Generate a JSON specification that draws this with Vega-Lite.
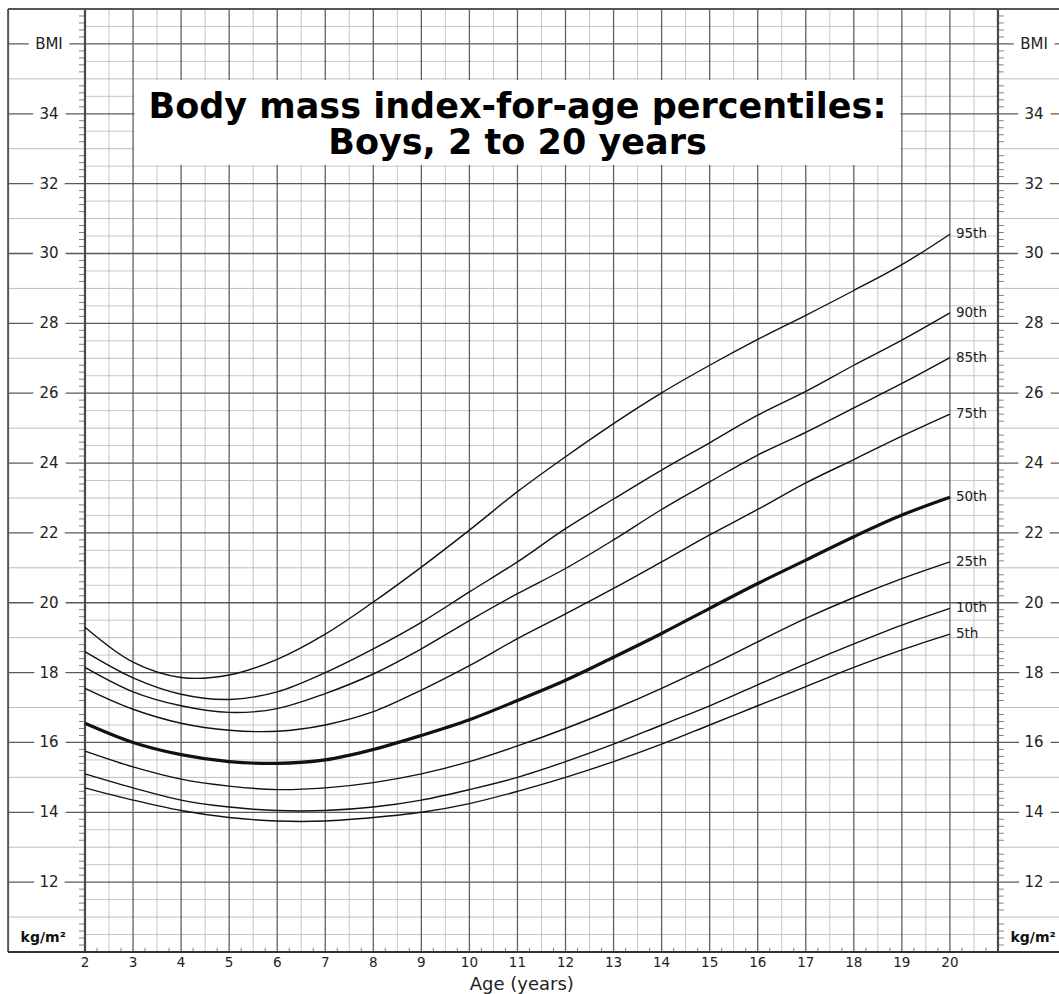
{
  "$schema": "https://vega.github.io/schema/vega-lite/v6.json",
  "width": 1051,
  "height": 943,
  "autosize": {"type": "none"},
  "padding": {"left": 8, "top": 9, "right": 0, "bottom": 42},
  "background": "white",
  "config": {"view": {"stroke": null}, "text": {"font": "DejaVu Sans"}},
  "datasets": {
    "curves": [
      {"age": 2, "5th": 14.7, "10th": 15.1, "25th": 15.75, "50th": 16.55, "75th": 17.55, "85th": 18.15, "90th": 18.6, "95th": 19.3},
      {"age": 3, "5th": 14.35, "10th": 14.7, "25th": 15.3, "50th": 16.0, "75th": 16.95, "85th": 17.45, "90th": 17.85, "95th": 18.3},
      {"age": 4, "5th": 14.05, "10th": 14.35, "25th": 14.95, "50th": 15.65, "75th": 16.55, "85th": 17.05, "90th": 17.38, "95th": 17.86},
      {"age": 5, "5th": 13.85, "10th": 14.15, "25th": 14.75, "50th": 15.45, "75th": 16.35, "85th": 16.86, "90th": 17.23, "95th": 17.93},
      {"age": 6, "5th": 13.75, "10th": 14.05, "25th": 14.65, "50th": 15.4, "75th": 16.32, "85th": 16.97, "90th": 17.45, "95th": 18.38},
      {"age": 7, "5th": 13.75, "10th": 14.05, "25th": 14.7, "50th": 15.5, "75th": 16.5, "85th": 17.4, "90th": 18.0, "95th": 19.1},
      {"age": 8, "5th": 13.85, "10th": 14.15, "25th": 14.85, "50th": 15.8, "75th": 16.88, "85th": 17.96, "90th": 18.68, "95th": 20.02},
      {"age": 9, "5th": 14.0, "10th": 14.35, "25th": 15.1, "50th": 16.2, "75th": 17.5, "85th": 18.68, "90th": 19.44, "95th": 21.02},
      {"age": 10, "5th": 14.25, "10th": 14.65, "25th": 15.45, "50th": 16.65, "75th": 18.2, "85th": 19.49, "90th": 20.31, "95th": 22.08},
      {"age": 11, "5th": 14.6, "10th": 15.0, "25th": 15.9, "50th": 17.2, "75th": 18.97, "85th": 20.26, "90th": 21.17, "95th": 23.18},
      {"age": 12, "5th": 15.0, "10th": 15.45, "25th": 16.4, "50th": 17.78, "75th": 19.68, "85th": 20.98, "90th": 22.12, "95th": 24.18},
      {"age": 13, "5th": 15.45, "10th": 15.95, "25th": 16.95, "50th": 18.44, "75th": 20.41, "85th": 21.8, "90th": 22.97, "95th": 25.13},
      {"age": 14, "5th": 15.95, "10th": 16.5, "25th": 17.55, "50th": 19.12, "75th": 21.17, "85th": 22.67, "90th": 23.8, "95th": 26.01},
      {"age": 15, "5th": 16.5, "10th": 17.05, "25th": 18.2, "50th": 19.84, "75th": 21.94, "85th": 23.46, "90th": 24.58, "95th": 26.8},
      {"age": 16, "5th": 17.05, "10th": 17.65, "25th": 18.88, "50th": 20.55, "75th": 22.67, "85th": 24.23, "90th": 25.37, "95th": 27.54},
      {"age": 17, "5th": 17.6, "10th": 18.25, "25th": 19.55, "50th": 21.22, "75th": 23.43, "85th": 24.88, "90th": 26.05, "95th": 28.23},
      {"age": 18, "5th": 18.15, "10th": 18.82, "25th": 20.15, "50th": 21.89, "75th": 24.1, "85th": 25.58, "90th": 26.8, "95th": 28.94},
      {"age": 19, "5th": 18.65, "10th": 19.36, "25th": 20.69, "50th": 22.51, "75th": 24.77, "85th": 26.28, "90th": 27.52, "95th": 29.68},
      {"age": 20, "5th": 19.1, "10th": 19.84, "25th": 21.17, "50th": 23.02, "75th": 25.4, "85th": 27.02, "90th": 28.3, "95th": 30.55}
    ],
    "ticksY": [10.2,10.4,10.6,10.8,11.2,11.4,11.6,11.8,12.2,12.4,12.6,12.8,13.2,13.4,13.6,13.8,14.2,14.4,14.6,14.8,15.2,15.4,15.6,15.8,16.2,16.4,16.6,16.8,17.2,17.4,17.6,17.8,18.2,18.4,18.6,18.8,19.2,19.4,19.6,19.8,20.2,20.4,20.6,20.8,21.2,21.4,21.6,21.8,22.2,22.4,22.6,22.8,23.2,23.4,23.6,23.8,24.2,24.4,24.6,24.8,25.2,25.4,25.6,25.8,26.2,26.4,26.6,26.8,27.2,27.4,27.6,27.8,28.2,28.4,28.6,28.8,29.2,29.4,29.6,29.8,30.2,30.4,30.6,30.8,31.2,31.4,31.6,31.8,32.2,32.4,32.6,32.8,33.2,33.4,33.6,33.8,34.2,34.4,34.6,34.8,35.2,35.4,35.6,35.8,36.2,36.4,36.6,36.8],
    "marginLabels": [
      {"b": 12, "t": "12"}, {"b": 14, "t": "14"}, {"b": 16, "t": "16"}, {"b": 18, "t": "18"},
      {"b": 20, "t": "20"}, {"b": 22, "t": "22"}, {"b": 24, "t": "24"}, {"b": 26, "t": "26"},
      {"b": 28, "t": "28"}, {"b": 30, "t": "30"}, {"b": 32, "t": "32"}, {"b": 34, "t": "34"},
      {"b": 36, "t": "BMI"}
    ],
    "ages": [2,3,4,5,6,7,8,9,10,11,12,13,14,15,16,17,18,19,20],
    "one": [{}]
  },
  "layer": [
    {
      "data": {"values": [2.5,3.5,4.5,5.5,6.5,7.5,8.5,9.5,10.5,11.5,12.5,13.5,14.5,15.5,16.5,17.5,18.5,19.5,20.5]},
      "mark": {"type": "rule", "color": "#c6c6c6", "strokeWidth": 1},
      "encoding": {
        "x": {"field": "data", "type": "quantitative", "scale": {"domain": [0.3975, 22.27], "nice": false, "zero": false}, "axis": null}
      }
    },
    {
      "data": {"values": [10.5,11.5,12.5,13.5,14.5,15.5,16.5,17.5,18.5,19.5,20.5,21.5,22.5,23.5,24.5,25.5,26.5,27.5,28.5,29.5,30.5,31.5,32.5,33.5,34.5,35.5,36.5]},
      "mark": {"type": "rule", "color": "#c6c6c6", "strokeWidth": 1},
      "encoding": {
        "y": {"field": "data", "type": "quantitative", "scale": {"domain": [10, 37], "nice": false, "zero": false}, "axis": null},
        "x": {"datum": 2, "axis": null},
        "x2": {"datum": 21}
      }
    },
    {
      "data": {"values": [11,13,15,17,19,21,23,25,27,29,31,33,35]},
      "mark": {"type": "rule", "color": "#bdbdbd", "strokeWidth": 1},
      "encoding": {"y": {"field": "data", "type": "quantitative", "axis": null}}
    },
    {
      "data": {"values": [3,4,5,6,7,8,9,10,11,12,13,14,15,16,17,18,19,20]},
      "mark": {"type": "rule", "color": "#616161", "strokeWidth": 1.3},
      "encoding": {"x": {"field": "data", "type": "quantitative", "axis": null}}
    },
    {
      "data": {"values": [12,14,16,18,20,22,24,26,28,30,32,34,36]},
      "mark": {"type": "rule", "color": "#5a5a5a", "strokeWidth": 1.3},
      "encoding": {"y": {"field": "data", "type": "quantitative", "axis": null}}
    },
    {
      "data": {"name": "ticksY"},
      "mark": {"type": "rule", "color": "#808080", "strokeWidth": 1},
      "encoding": {
        "y": {"field": "data", "type": "quantitative", "axis": null},
        "x": {"datum": 1.875, "axis": null},
        "x2": {"datum": 2}
      }
    },
    {
      "data": {"name": "ticksY"},
      "mark": {"type": "rule", "color": "#808080", "strokeWidth": 1},
      "encoding": {
        "y": {"field": "data", "type": "quantitative", "axis": null},
        "x": {"datum": 21, "axis": null},
        "x2": {"datum": 21.12}
      }
    },
    {
      "data": {"values": [2.25,2.75,3.25,3.75,4.25,4.75,5.25,5.75,6.25,6.75,7.25,7.75,8.25,8.75,9.25,9.75,10.25,10.75,11.25,11.75,12.25,12.75,13.25,13.75,14.25,14.75,15.25,15.75,16.25,16.75,17.25,17.75,18.25,18.75,19.25,19.75,20.25,20.75]},
      "mark": {"type": "rule", "color": "#808080", "strokeWidth": 1},
      "encoding": {
        "x": {"field": "data", "type": "quantitative", "axis": null},
        "y": {"datum": 10, "axis": null},
        "y2": {"datum": 10.12}
      }
    },
    {
      "data": {"name": "one"},
      "mark": {"type": "rect", "color": "white", "opacity": 1},
      "encoding": {
        "x": {"datum": 3.03, "axis": null}, "x2": {"datum": 18.97},
        "y": {"datum": 32.53, "axis": null}, "y2": {"datum": 34.97}
      }
    },
    {
      "data": {"values": [2, 21]},
      "mark": {"type": "rule", "color": "#4a4a4a", "strokeWidth": 2.2},
      "encoding": {"x": {"field": "data", "type": "quantitative", "axis": null}}
    },
    {
      "data": {"name": "one"},
      "mark": {"type": "rule", "color": "#555", "strokeWidth": 2},
      "encoding": {"x": {"datum": 0.4, "axis": null}}
    },
    {
      "data": {"name": "one"},
      "mark": {"type": "rule", "color": "#555", "strokeWidth": 2},
      "encoding": {"y": {"datum": 37, "axis": null}}
    },
    {
      "data": {"name": "one"},
      "mark": {"type": "rule", "color": "#333", "strokeWidth": 1.8},
      "encoding": {"y": {"datum": 10, "axis": null}}
    },
    {
      "data": {"name": "curves"},
      "transform": [{"fold": ["5th","10th","25th","50th","75th","85th","90th","95th"], "as": ["pct", "bmi"]}],
      "mark": {"type": "line", "interpolate": "catmull-rom", "color": "#111"},
      "encoding": {
        "x": {"field": "age", "type": "quantitative", "axis": null},
        "y": {"field": "bmi", "type": "quantitative", "axis": null},
        "detail": {"field": "pct"},
        "strokeWidth": {"condition": {"test": "datum.pct === '50th'", "value": 3.2}, "value": 1.4}
      }
    },
    {
      "data": {"name": "curves"},
      "transform": [
        {"filter": "datum.age === 20"},
        {"fold": ["5th","10th","25th","50th","75th","85th","90th","95th"], "as": ["pct", "bmi"]}
      ],
      "mark": {"type": "text", "align": "left", "baseline": "middle", "dx": 6, "fontSize": 13.5, "color": "#222"},
      "encoding": {
        "x": {"field": "age", "type": "quantitative", "axis": null},
        "y": {"field": "bmi", "type": "quantitative", "axis": null},
        "text": {"field": "pct"}
      }
    },
    {
      "data": {"name": "marginLabels"},
      "mark": {"type": "text", "align": "center", "baseline": "middle", "fontSize": 15, "color": "white", "stroke": "white", "strokeWidth": 16, "strokeJoin": "round"},
      "encoding": {"x": {"datum": 1.25, "axis": null}, "y": {"field": "b", "type": "quantitative", "axis": null}, "text": {"field": "t"}}
    },
    {
      "data": {"name": "marginLabels"},
      "mark": {"type": "text", "align": "center", "baseline": "middle", "fontSize": 15, "color": "white", "stroke": "white", "strokeWidth": 16, "strokeJoin": "round"},
      "encoding": {"x": {"datum": 21.75, "axis": null}, "y": {"field": "b", "type": "quantitative", "axis": null}, "text": {"field": "t"}}
    },
    {
      "data": {"name": "marginLabels"},
      "mark": {"type": "text", "align": "center", "baseline": "middle", "fontSize": 15, "color": "#222"},
      "encoding": {"x": {"datum": 1.25, "axis": null}, "y": {"field": "b", "type": "quantitative", "axis": null}, "text": {"field": "t"}}
    },
    {
      "data": {"name": "marginLabels"},
      "mark": {"type": "text", "align": "center", "baseline": "middle", "fontSize": 15, "color": "#222"},
      "encoding": {"x": {"datum": 21.75, "axis": null}, "y": {"field": "b", "type": "quantitative", "axis": null}, "text": {"field": "t"}}
    },
    {
      "data": {"name": "ages"},
      "mark": {"type": "text", "align": "center", "baseline": "middle", "fontSize": 13.5, "color": "#222"},
      "encoding": {"x": {"field": "data", "type": "quantitative", "axis": null}, "y": {"datum": 9.685, "axis": null}, "text": {"field": "data"}}
    },
    {
      "data": {"name": "one"},
      "mark": {"type": "text", "align": "center", "baseline": "middle", "fontSize": 18, "color": "#222", "text": "Age (years)"},
      "encoding": {"x": {"datum": 11.09, "axis": null}, "y": {"datum": 9.055, "axis": null}}
    },
    {
      "data": {"name": "one"},
      "mark": {"type": "text", "align": "center", "baseline": "middle", "fontSize": 14, "fontWeight": "bold", "color": "#111", "text": "kg/m²"},
      "encoding": {"x": {"datum": 1.13, "axis": null}, "y": {"datum": 10.4, "axis": null}}
    },
    {
      "data": {"name": "one"},
      "mark": {"type": "text", "align": "center", "baseline": "middle", "fontSize": 14, "fontWeight": "bold", "color": "#111", "text": "kg/m²"},
      "encoding": {"x": {"datum": 21.73, "axis": null}, "y": {"datum": 10.4, "axis": null}}
    },
    {
      "data": {"name": "one"},
      "mark": {"type": "text", "align": "center", "baseline": "middle", "fontSize": 35, "fontWeight": "bold", "color": "#000", "text": "Body mass index-for-age percentiles:"},
      "encoding": {"x": {"datum": 11, "axis": null}, "y": {"datum": 34.2, "axis": null}}
    },
    {
      "data": {"name": "one"},
      "mark": {"type": "text", "align": "center", "baseline": "middle", "fontSize": 35, "fontWeight": "bold", "color": "#000", "text": "Boys, 2 to 20 years"},
      "encoding": {"x": {"datum": 11, "axis": null}, "y": {"datum": 33.17, "axis": null}}
    }
  ]
}
